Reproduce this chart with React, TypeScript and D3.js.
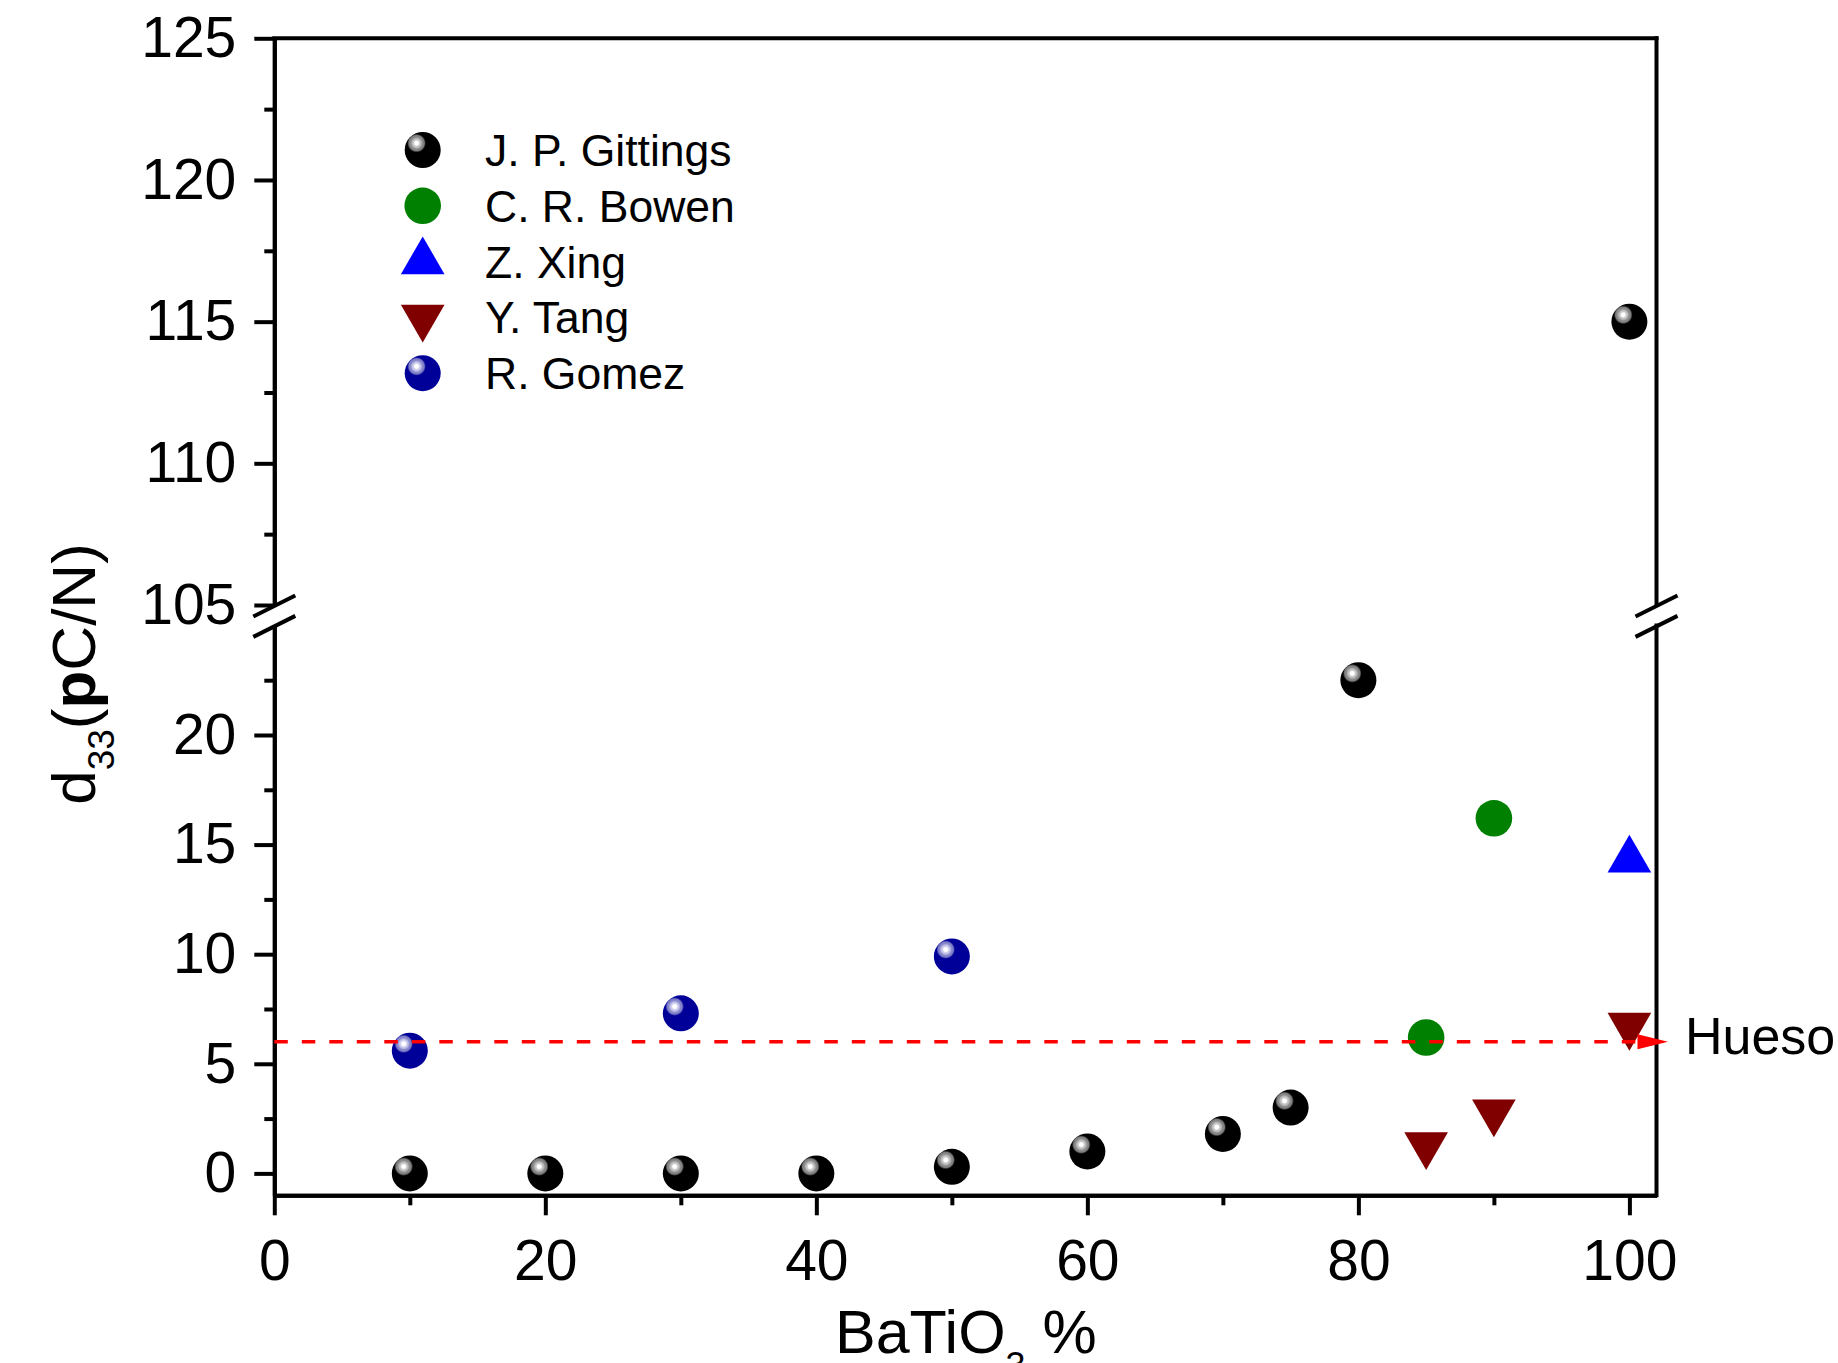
import { useEffect, useRef } from 'react'
import * as d3 from 'd3'

// BaTiO3 content (%) vs d33 (pC/N)
const gittingsX = [10, 20, 30, 40, 50, 60, 70, 75, 80, 100]
const gittingsY = [0, 0, 0, 0, 0.3, 1.0, 1.8, 3.0, 22.5, 115]
const bowenX = [85, 90]
const bowenY = [6.2, 16.2]
const xingX = [100]
const xingY = [14.3]
const tangX = [85, 90, 100]
const tangY = [1.3, 2.8, 6.75]
const gomezX = [10, 30, 50]
const gomezY = [5.6, 7.3, 9.9]

const huesoLevel = 6
const huesoLabel = 'Hueso'

const xTicks = [0, 20, 40, 60, 80, 100]
const xMinorTicks = [10, 30, 50, 70, 90]
const lowerTicks = [0, 5, 10, 15, 20]
const lowerMinorTicks = [2.5, 7.5, 12.5, 17.5, 22.5]
const upperTicks = [105, 110, 115, 120, 125]
const upperMinorTicks = [107.5, 112.5, 117.5, 122.5]

const seriesNames = ['J. P. Gittings', 'C. R. Bowen', 'Z. Xing', 'Y. Tang', 'R. Gomez']
const seriesKinds = ['blackBall', 'greenDot', 'upTri', 'downTri', 'blueBall']

const FONT = '"Liberation Sans", Arial, Helvetica, sans-serif'

export default function App() {
  const ref = useRef<SVGSVGElement | null>(null)

  useEffect(() => {
    if (!ref.current) return
    const width = 1838
    const height = 1363
    const svg = d3.select(ref.current)
    svg.selectAll('*').remove()
    svg.attr('width', width).attr('height', height)

    const x = d3.scaleLinear().domain([0, 102]).range([274.3, 1656.5])
    const yLow = d3.scaleLinear().domain([-1, 25]).range([1195.3, 625.4])
    const yUp = d3.scaleLinear().domain([105, 125]).range([605, 38.3])
    const yPos = (v: number) => (v >= 100 ? yUp(v) : yLow(v))

    const defs = svg.append('defs')
    const ball = (id: string, stops: [number, string][]) => {
      const g = defs
        .append('radialGradient')
        .attr('id', id)
        .attr('cx', 0.33)
        .attr('cy', 0.31)
        .attr('fx', 0.33)
        .attr('fy', 0.31)
        .attr('r', 0.26)
      stops.forEach(([o, c]) => g.append('stop').attr('offset', o).attr('stop-color', c))
    }
    ball('gBlack', [
      [0, '#ffffff'],
      [0.2, '#ffffff'],
      [0.32, '#cfcfcf'],
      [0.5, '#b4b4b4'],
      [0.62, '#8e8e8e'],
      [0.82, '#7c7c7c'],
      [0.93, '#2a2a2a'],
      [1, '#000000'],
    ])
    ball('gBlue', [
      [0, '#ffffff'],
      [0.2, '#ffffff'],
      [0.32, '#d6d6f2'],
      [0.5, '#b8b8e4'],
      [0.62, '#8c8cd0'],
      [0.82, '#7a7ac4'],
      [0.93, '#1e1ea4'],
      [1, '#000099'],
    ])

    const tri = d3.symbol(d3.symbolTriangle, 825)()

    const drawMarker = (g: any, kind: string, cx: number, cy: number) => {
      if (kind === 'blackBall' || kind === 'blueBall') {
        g.append('circle')
          .attr('cx', cx)
          .attr('cy', cy)
          .attr('r', 18)
          .attr('fill', kind === 'blackBall' ? 'url(#gBlack)' : 'url(#gBlue)')
      } else if (kind === 'greenDot') {
        g.append('circle').attr('cx', cx).attr('cy', cy).attr('r', 18.3).attr('fill', '#008000')
      } else if (kind === 'upTri') {
        g.append('path').attr('d', tri).attr('transform', `translate(${cx},${cy})`).attr('fill', '#0000ff')
      } else {
        g.append('path')
          .attr('d', tri)
          .attr('transform', `translate(${cx},${cy}) rotate(180)`)
          .attr('fill', '#800000')
      }
    }

    // axes
    const styleAxis = (g: any) => {
      g.attr('font-family', FONT).attr('font-size', 57)
      g.selectAll('path,line').attr('stroke', '#000').attr('stroke-width', 4)
      g.selectAll('text').attr('fill', '#000')
    }
    const x0 = x.range()[0]
    const x1 = x.range()[1]

    const leftUp = svg
      .append('g')
      .attr('transform', `translate(${x0},0)`)
      .call(d3.axisLeft(yUp).tickValues(upperTicks).tickSize(20).tickSizeOuter(0).tickPadding(18))
    styleAxis(leftUp)
    const leftLow = svg
      .append('g')
      .attr('transform', `translate(${x0},0)`)
      .call(d3.axisLeft(yLow).tickValues(lowerTicks).tickSize(20).tickSizeOuter(0).tickPadding(18))
    styleAxis(leftLow)
    const minorUp = svg
      .append('g')
      .attr('transform', `translate(${x0},0)`)
      .call(d3.axisLeft(yUp).tickValues(upperMinorTicks).tickSize(10).tickSizeOuter(0).tickFormat(() => ''))
    styleAxis(minorUp)
    const minorLow = svg
      .append('g')
      .attr('transform', `translate(${x0},0)`)
      .call(d3.axisLeft(yLow).tickValues(lowerMinorTicks).tickSize(10).tickSizeOuter(0).tickFormat(() => ''))
    styleAxis(minorLow)

    const bottom = svg
      .append('g')
      .attr('transform', `translate(0,${yLow(-1)})`)
      .call(d3.axisBottom(x).tickValues(xTicks).tickSize(20).tickSizeOuter(0).tickPadding(24))
    styleAxis(bottom)
    const bottomMinor = svg
      .append('g')
      .attr('transform', `translate(0,${yLow(-1)})`)
      .call(d3.axisBottom(x).tickValues(xMinorTicks).tickSize(10).tickSizeOuter(0).tickFormat(() => ''))
    styleAxis(bottomMinor)

    // frame: top and right
    const frame = svg.append('g').attr('stroke', '#000').attr('stroke-width', 4).attr('stroke-linecap', 'square')
    frame.append('line').attr('x1', x0).attr('x2', x1).attr('y1', yUp(125)).attr('y2', yUp(125))
    frame.append('line').attr('x1', x1).attr('x2', x1).attr('y1', yUp(125)).attr('y2', yUp(105))
    frame.append('line').attr('x1', x1).attr('x2', x1).attr('y1', yLow(25)).attr('y2', yLow(-1))

    // break marks
    ;[x0, x1].forEach((bx) => {
      ;[yUp(105) + 1, yLow(25) + 1].forEach((by) => {
        frame
          .append('line')
          .attr('stroke-linecap', 'butt')
          .attr('x1', bx - 21)
          .attr('y1', by + 10.5)
          .attr('x2', bx + 21)
          .attr('y2', by - 10.5)
      })
    })

    // data
    const marks = svg.append('g')
    const series = [
      { xs: gittingsX, ys: gittingsY },
      { xs: bowenX, ys: bowenY },
      { xs: xingX, ys: xingY },
      { xs: tangX, ys: tangY },
      { xs: gomezX, ys: gomezY },
    ]
    series.forEach((s, i) => {
      s.xs.forEach((xv, j) => drawMarker(marks, seriesKinds[i], x(xv), yPos(s.ys[j])))
    })

    // bone reference line
    const hy = yLow(huesoLevel)
    svg
      .append('line')
      .attr('x1', x(0))
      .attr('x2', x(100.6))
      .attr('y1', hy)
      .attr('y2', hy)
      .attr('stroke', '#ff0000')
      .attr('stroke-width', 3.5)
      .attr('stroke-dasharray', '13.5 14')
    svg
      .append('path')
      .attr('d', `M${x(100.6)},${hy - 7.5} L${x(102.85)},${hy} L${x(100.6)},${hy + 7.5} Z`)
      .attr('fill', '#ff0000')
    svg
      .append('text')
      .attr('x', x(104.1))
      .attr('y', hy + 12)
      .attr('font-family', FONT)
      .attr('font-size', 52)
      .text(huesoLabel)

    // legend
    const legend = svg.append('g')
    seriesNames.forEach((name, i) => {
      const cy = 150 + i * 55.8
      drawMarker(legend, seriesKinds[i], 422.7, cy)
      legend
        .append('text')
        .attr('x', 485)
        .attr('y', cy + 16)
        .attr('font-family', FONT)
        .attr('font-size', 44.5)
        .text(name)
    })

    // axis titles
    const xt = svg
      .append('text')
      .attr('x', 835)
      .attr('y', 1353)
      .attr('font-family', FONT)
      .attr('font-size', 61)
    xt.append('tspan').text('BaTiO')
    xt.append('tspan').attr('font-size', 36).attr('dy', 25).text('3')
    xt.append('tspan').attr('dy', -25).text(' %')

    const yt = svg
      .append('text')
      .attr('transform', 'translate(95,674) rotate(-90)')
      .attr('text-anchor', 'middle')
      .attr('font-family', FONT)
      .attr('font-size', 62)
    yt.append('tspan').text('d')
    yt.append('tspan').attr('font-size', 37).attr('dy', 19).text('33')
    yt.append('tspan').attr('dy', -19).text('(')
    yt.append('tspan').attr('font-weight', 'bold').text('p')
    yt.append('tspan').text('C/N)')
  }, [])

  return (
    <div style={{ position: 'absolute', left: 0, top: 0, background: '#fff' }}>
      <svg ref={ref} style={{ display: 'block' }} />
    </div>
  )
}
